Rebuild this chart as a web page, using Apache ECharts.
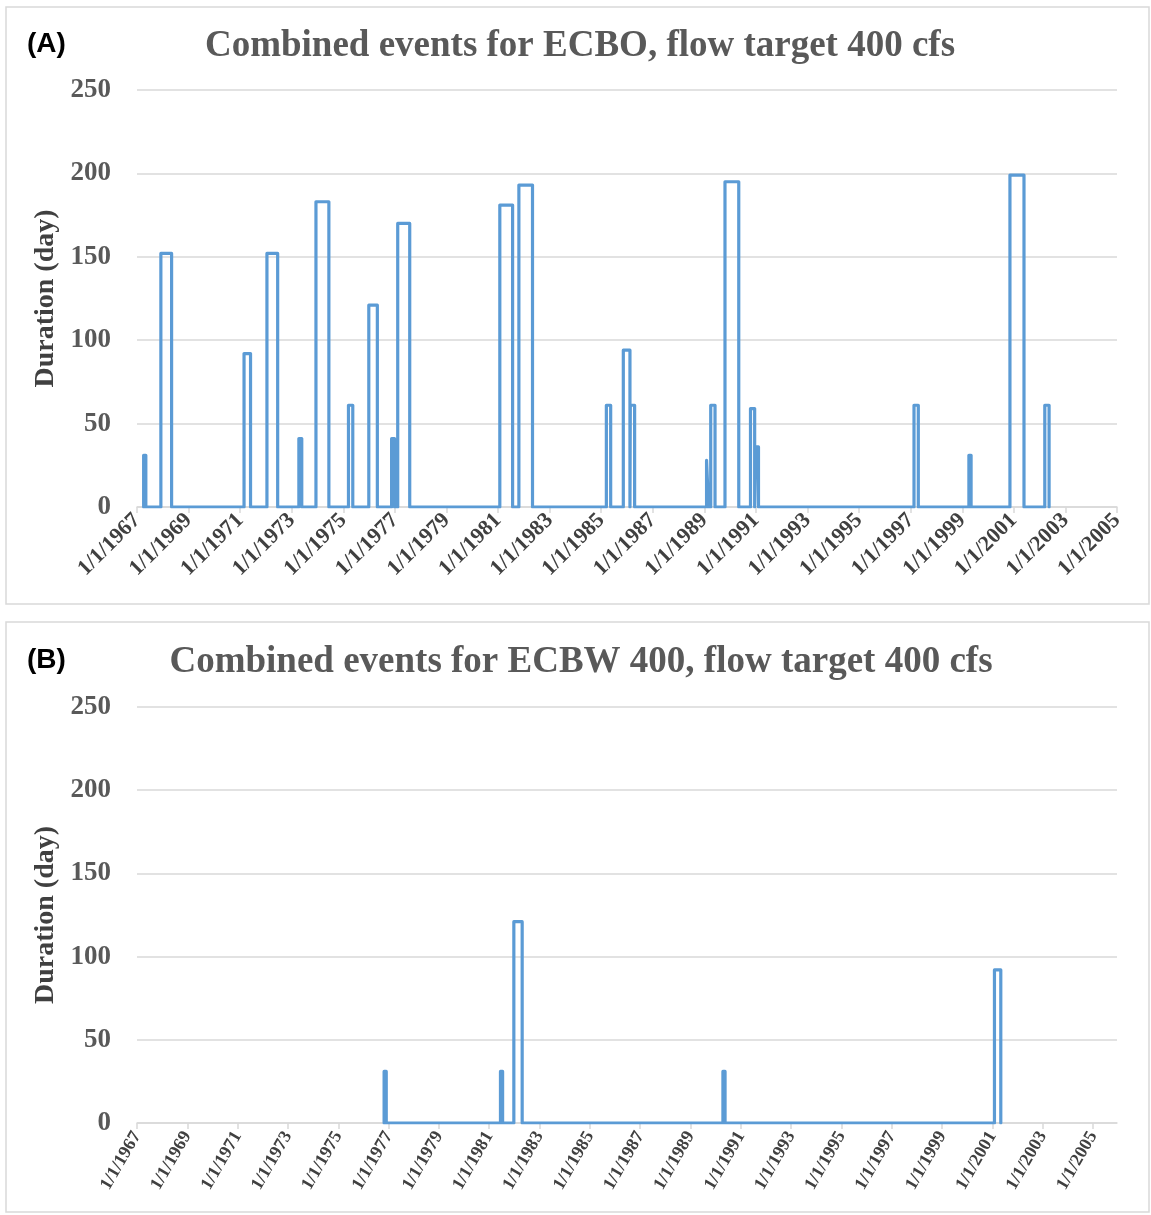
<!DOCTYPE html>
<html>
<head>
<meta charset="utf-8">
<script src="https://cdn.jsdelivr.net/npm/echarts@6/dist/echarts.min.js"></script>
<style>
  html, body { margin: 0; padding: 0; background: #fff; }
  #chart { width: 1151px; height: 1215px; }
</style>
</head>
<body>
<div id="chart"></div>
<script>
// tick years on both x axes (labelled 1/1/yyyy)
var tickYears = [1967, 1969, 1971, 1973, 1975, 1977, 1979, 1981, 1983, 1985,
                 1987, 1989, 1991, 1993, 1995, 1997, 1999, 2001, 2003, 2005];
var durationTicks = [0, 50, 100, 150, 200, 250];

// (A) ECBO events: start date and duration (days)
var ecboStart = ['1967-04-05', '1967-12-05', '1971-02-25', '1972-01-15', '1973-04-12',
                 '1973-12-10', '1975-03-15', '1975-12-28', '1976-11-15', '1977-02-10',
                 '1981-01-26', '1981-10-23', '1985-03-15', '1985-11-10', '1986-02-17',
                 '1989-02-01', '1989-04-01', '1989-10-20', '1990-10-16', '1991-01-01',
                 '1997-02-17', '1999-04-05', '2000-11-06', '2002-03-15'];
var ecboDays  = [31, 152, 92, 152, 41,
                 183, 61, 121, 41, 170,
                 181, 193, 61, 94, 61,
                 28, 61, 195, 59, 36,
                 61, 31, 199, 61];

// (B) ECBW400 events
var ecbwStart = ['1976-10-27', '1981-06-13', '1981-12-24', '1990-04-16', '2001-01-30'];
var ecbwDays  = [31, 31, 121, 31, 92];

function toYear(s) {
    var d = new Date(s + 'T00:00:00Z');
    var y = d.getUTCFullYear();
    return y + (d.getTime() - Date.UTC(y, 0, 1)) / (365.25 * 86400000);
}

// each event is drawn as a pulse: up at start, flat for its duration, back to 0
function pulses(starts, days) {
    var pts = [];
    for (var i = 0; i < starts.length; i++) {
        var x0 = toYear(starts[i]);
        var x1 = x0 + days[i] / 365.25;
        pts.push([x0, 0], [x0, days[i]], [x1, days[i]], [x1, 0]);
    }
    return pts;
}

var serif = '"Liberation Serif", "Times New Roman", serif';
var gridColor = '#D9D9D9';

function xAxisFor(idx, max, fontSize, rotate) {
    return {
        type: 'value',
        gridIndex: idx,
        min: 1967,
        max: max,
        splitLine: { show: false },
        axisLine: { lineStyle: { color: gridColor, width: 1.5 } },
        axisTick: { customValues: tickYears, length: 6, lineStyle: { color: gridColor, width: 1.5 } },
        axisLabel: {
            customValues: tickYears,
            rotate: rotate,
            margin: 10,
            fontFamily: serif,
            fontWeight: 'bold',
            fontSize: fontSize,
            color: '#404040',
            formatter: function (v) { return '1/1/' + Math.round(v); }
        }
    };
}

function yAxisFor(idx) {
    return {
        type: 'value',
        gridIndex: idx,
        min: durationTicks[0],
        max: durationTicks[durationTicks.length - 1],
        interval: 50,
        name: 'Duration (day)',
        nameLocation: 'middle',
        nameGap: 74,
        nameTextStyle: { fontFamily: serif, fontWeight: 'bold', fontSize: 28, color: '#404040' },
        axisLine: { show: false },
        axisTick: { show: false },
        axisLabel: { margin: 26, fontFamily: serif, fontWeight: 'bold', fontSize: 27, color: '#595959' },
        splitLine: { lineStyle: { color: gridColor, width: 1.5 } }
    };
}

function lineSeries(idx, data) {
    return {
        type: 'line',
        xAxisIndex: idx,
        yAxisIndex: idx,
        data: data,
        symbol: 'none',
        lineStyle: { color: '#5B9BD5', width: 3.2, join: 'round', cap: 'round' }
    };
}

var myChart = echarts.init(document.getElementById('chart'));
var option = {
    animation: false,
    backgroundColor: '#fff',
    title: [
        { text: 'Combined events for ECBO, flow target 400 cfs', left: 580, top: 28, padding: 0, textAlign: 'center',
          textStyle: { fontFamily: serif, fontWeight: 'bold', fontSize: 37, color: '#595959' } },
        { text: '(A)', left: 27, top: 30, padding: 0,
          textStyle: { fontFamily: '"Liberation Sans", Arial, sans-serif', fontWeight: 'bold', fontSize: 28, color: '#000' } },
        { text: 'Combined events for ECBW 400, flow target 400 cfs', left: 581, top: 644, padding: 0, textAlign: 'center',
          textStyle: { fontFamily: serif, fontWeight: 'bold', fontSize: 37, color: '#595959' } },
        { text: '(B)', left: 27, top: 646, padding: 0,
          textStyle: { fontFamily: '"Liberation Sans", Arial, sans-serif', fontWeight: 'bold', fontSize: 28, color: '#000' } }
    ],
    graphic: [
        { type: 'rect', shape: { x: 6, y: 7, width: 1143, height: 597 },
          style: { fill: 'none', stroke: gridColor, lineWidth: 1.5 } },
        { type: 'rect', shape: { x: 6, y: 622, width: 1143, height: 590 },
          style: { fill: 'none', stroke: gridColor, lineWidth: 1.5 } }
    ],
    grid: [
        { left: 137, right: 34, top: 90, height: 417 },
        { left: 137, right: 34, top: 707, height: 416 }
    ],
    xAxis: [xAxisFor(0, 2005, 22, 45), xAxisFor(1, 2005.95, 18, 60)],
    yAxis: [yAxisFor(0), yAxisFor(1)],
    series: [
        lineSeries(0, pulses(ecboStart, ecboDays)),
        lineSeries(1, pulses(ecbwStart, ecbwDays))
    ]
};
myChart.setOption(option);
</script>
</body>
</html>
